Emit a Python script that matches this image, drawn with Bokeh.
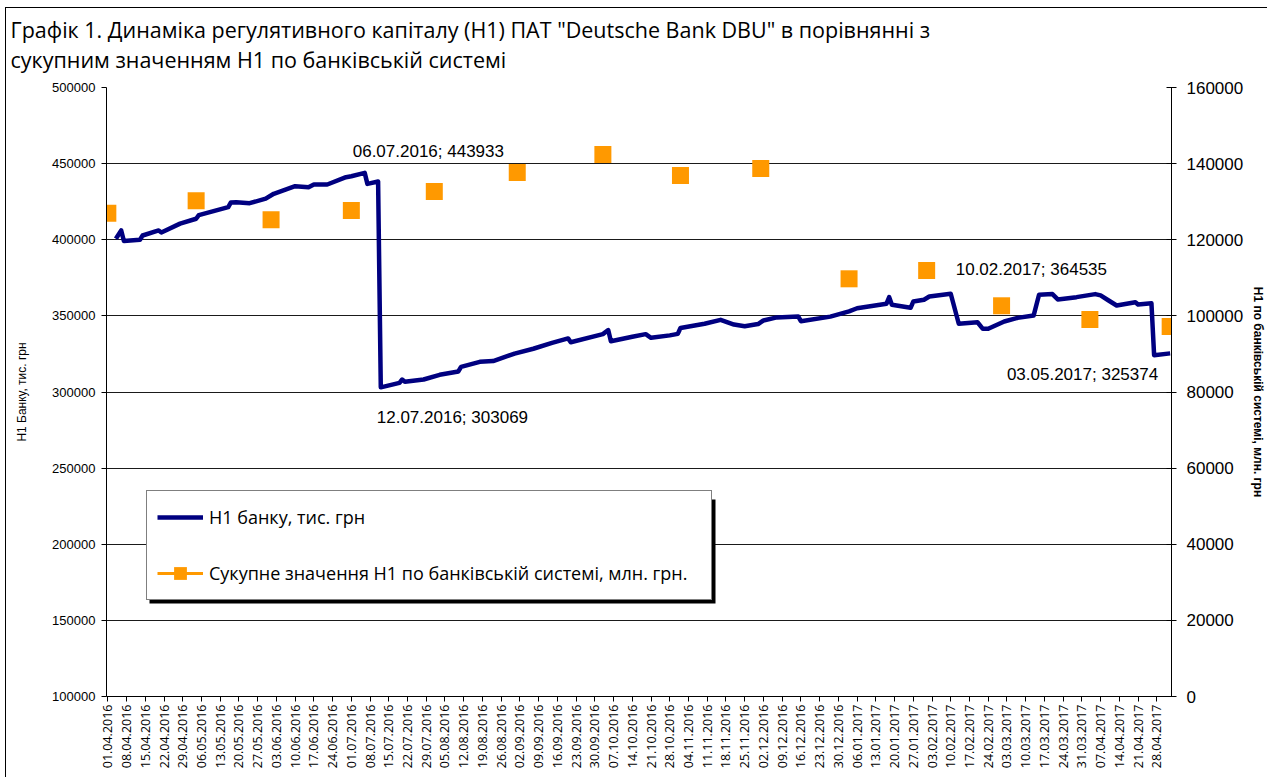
import pandas as pd
from math import pi
from bokeh.plotting import figure
from bokeh.models import (Range1d, LinearAxis, FixedTicker, BasicTickFormatter,
                          Label, Legend, LegendItem, Title, BoxAnnotation)
from bokeh.embed import file_html
from bokeh.resources import INLINE

# ---------------- data ----------------
bank_dates = [
    "04.04.2016", "06.04.2016", "07.04.2016", "13.04.2016", "14.04.2016", "20.04.2016",
    "21.04.2016", "28.04.2016", "04.05.2016", "05.05.2016", "16.05.2016", "17.05.2016",
    "19.05.2016", "24.05.2016", "30.05.2016", "02.06.2016", "10.06.2016", "15.06.2016",
    "17.06.2016", "22.06.2016", "29.06.2016", "01.07.2016", "06.07.2016", "07.07.2016",
    "11.07.2016", "12.07.2016", "19.07.2016", "20.07.2016", "21.07.2016", "28.07.2016",
    "03.08.2016", "10.08.2016", "11.08.2016", "18.08.2016", "23.08.2016", "31.08.2016",
    "07.09.2016", "14.09.2016", "20.09.2016", "21.09.2016", "03.10.2016", "05.10.2016",
    "06.10.2016", "14.10.2016", "19.10.2016", "21.10.2016", "28.10.2016", "31.10.2016",
    "01.11.2016", "10.11.2016", "16.11.2016", "21.11.2016", "25.11.2016", "30.11.2016",
    "02.12.2016", "07.12.2016", "15.12.2016", "16.12.2016", "27.12.2016", "03.01.2017",
    "06.01.2017", "17.01.2017", "18.01.2017", "19.01.2017", "26.01.2017", "27.01.2017",
    "31.01.2017", "02.02.2017", "10.02.2017", "13.02.2017", "20.02.2017", "22.02.2017",
    "24.02.2017", "02.03.2017", "07.03.2017", "13.03.2017", "15.03.2017", "20.03.2017",
    "22.03.2017", "29.03.2017", "05.04.2017", "07.04.2017", "10.04.2017", "13.04.2017",
    "20.04.2017", "21.04.2017", "26.04.2017", "27.04.2017", "03.05.2017",
]
bank_values = [
    400600, 406100, 399200, 400000, 402800, 406100,
    404800, 410600, 413800, 416200, 421400, 424500,
    424700, 424000, 427000, 430200, 435200, 434500,
    436300, 436300, 441100, 441700, 443933, 436700,
    438300, 303069, 306000, 308200, 306800, 308200,
    311300, 313500, 316500, 319800, 320300, 325200,
    328400, 332300, 335200, 332700, 338000, 340700,
    333300, 336300, 338000, 335600, 337200, 338200,
    342000, 344800, 347400, 344300, 343200, 344600,
    347000, 349000, 349600, 346500, 349500, 353000,
    355000, 358000, 362300, 357300, 355300, 359400,
    360600, 362700, 364535, 344800, 345800, 341500,
    341500, 346300, 348700, 350300, 363900, 364300,
    360800, 362300, 364300, 363500, 360100, 356800,
    359000, 357500, 358300, 324200, 325374,
]

system_dates = [
    "01.04.2016", "04.05.2016", "01.06.2016", "01.07.2016", "01.08.2016", "01.09.2016",
    "03.10.2016", "01.11.2016", "01.12.2016", "03.01.2017", "01.02.2017", "01.03.2017",
    "03.04.2017", "03.05.2017",
]
system_values = [
    126980, 130230, 125240, 127690, 132680, 137670,
    142400, 136880, 138720, 109740, 111920, 102650,
    99050, 97210,
]

left_ticks = [100000, 150000, 200000, 250000, 300000, 350000, 400000, 450000, 500000]
right_ticks = [0, 20000, 40000, 60000, 80000, 100000, 120000, 140000, 160000]

annotations = [
    ("06.07.2016", 443933),
    ("12.07.2016", 303069),
    ("10.02.2017", 364535),
    ("03.05.2017", 325374),
]

title_lines = [
    'Графік 1. Динаміка регулятивного капіталу (Н1) ПАТ "Deutsche Bank DBU" в порівнянні з',
    'сукупним значенням Н1 по банківській системі',
]
left_label = "Н1 Банку, тис. грн"
right_label = "Н1 по банківській системі, млн. грн"
legend_labels = ["Н1 банку, тис. грн", "Сукупне значення Н1 по банківській системі, млн. грн."]

# ---------------- helpers ----------------
START = pd.Timestamp("2016-04-01")


def to_days(strings):
    d = pd.to_datetime(pd.Series(strings), format="%d.%m.%Y")
    return [int(v) for v in (d - START).dt.days]


bank_x = to_days(bank_dates)
sys_x = to_days(system_dates)

tick_dates = pd.date_range("2016-04-01", "2017-04-28", freq="7D")
tick_labels = [d.strftime("%d.%m.%Y") for d in tick_dates]
tick_x = [int((d - START).days) for d in tick_dates]

NAVY = "#000080"
ORANGE = "#FF9900"
ARIAL = "Liberation Sans"

p = figure(width=1262, height=770, output_backend="svg", toolbar_location=None,
           x_range=Range1d(-0.5, 397.5), y_range=Range1d(100000, 500000),
           min_border_left=100, min_border_right=93, min_border_top=79, min_border_bottom=82)
p.outline_line_color = None
p.background_fill_color = "white"
p.border_fill_color = "white"
p.styles = {"margin-left": "5px", "margin-top": "7px",
            "border-left": "1px solid #000", "border-top": "1px solid #000"}

p.extra_y_ranges = {"right": Range1d(0, 160000)}

# grid
p.xgrid.visible = False
p.ygrid.ticker = FixedTicker(ticks=left_ticks)
p.ygrid.grid_line_color = "#1a1a1a"
p.ygrid.grid_line_width = 1

# x axis
xa = p.xaxis[0]
xa.ticker = FixedTicker(ticks=tick_x)
xa.major_label_overrides = {x: lab for x, lab in zip(tick_x, tick_labels)}
xa.major_label_orientation = pi / 2
xa.major_label_text_font = "Open Sans"
xa.major_label_text_font_size = "12.5px"
xa.major_label_text_color = "black"
xa.major_label_standoff = 3
xa.major_tick_out = 5
xa.major_tick_in = 0
xa.minor_tick_line_color = None
xa.axis_line_color = "black"
xa.major_tick_line_color = "black"

# left axis
ya = p.yaxis[0]
ya.ticker = FixedTicker(ticks=left_ticks)
ya.formatter = BasicTickFormatter(use_scientific=False)
ya.major_label_text_font = ARIAL
ya.major_label_text_font_size = "13px"
ya.major_label_text_color = "black"
ya.major_label_standoff = 6
ya.major_tick_out = 5
ya.major_tick_in = 0
ya.minor_tick_line_color = None
ya.axis_line_color = "black"
ya.major_tick_line_color = "black"
ya.axis_label = left_label
ya.axis_label_text_font = ARIAL
ya.axis_label_text_font_size = "12px"
ya.axis_label_text_font_style = "normal"
ya.axis_label_text_color = "black"
ya.axis_label_standoff = 20

# right axis
ra = LinearAxis(y_range_name="right", ticker=FixedTicker(ticks=right_ticks),
                formatter=BasicTickFormatter(use_scientific=False))
ra.major_label_text_font = ARIAL
ra.major_label_text_font_size = "17px"
ra.major_label_text_color = "black"
ra.major_label_standoff = 10
ra.major_tick_out = 5
ra.major_tick_in = 5
ra.minor_tick_line_color = None
ra.axis_line_color = "black"
ra.major_tick_line_color = "black"
ra.axis_label = right_label
ra.axis_label_text_font = ARIAL
ra.axis_label_text_font_size = "12px"
ra.axis_label_text_font_style = "bold"
ra.axis_label_text_color = "black"
ra.axis_label_standoff = 5
p.add_layout(ra, "right")

# titles (line nearest the plot first)
p.add_layout(Title(text=title_lines[1], align="left", offset=-96, standoff=28,
                   text_font="Open Sans", text_font_size="21.5px",
                   text_font_style="normal", text_color="black"), "above")
p.add_layout(Title(text=title_lines[0], align="left", offset=-96, standoff=-30,
                   text_font="Open Sans", text_font_size="21.5px",
                   text_font_style="normal", text_color="black"), "above")

# series
bank_r = p.line(x=bank_x, y=bank_values, line_color=NAVY, line_width=4.5, line_join="round")
sys_r = p.scatter(x=sys_x, y=system_values, marker="square", size=17,
                  fill_color=ORANGE, line_color=None, y_range_name="right")
# line part of the legend sample for the orange series (single point: draws nothing)
sys_leg_line = p.line(x=sys_x[:1], y=system_values[:1], line_color=ORANGE, line_width=3,
                      y_range_name="right")

# data labels
ann_x = to_days([a[0] for a in annotations])
ann_style = [  # (x_offset, y_offset, align)
    (-12, 21, "left"),
    (-4, -30, "left"),
    (5, 24, "left"),
    (-12, -21, "right"),
]
for (d, v), xv, (xo, yo, al) in zip(annotations, ann_x, ann_style):
    p.add_layout(Label(x=xv, y=v, x_offset=xo, y_offset=yo, text=f"{d}; {v}",
                       text_font=ARIAL, text_font_size="17px", text_color="black",
                       text_align=al, text_baseline="alphabetic"))

# legend with a drop shadow
LEG_L, LEG_B, LEG_W, LEG_H = 40, 96, 566, 104
p.add_layout(BoxAnnotation(left=LEG_L + 3, right=LEG_L + LEG_W + 3,
                           bottom=LEG_B - 3, top=LEG_B + LEG_H - 3,
                           left_units="screen", right_units="screen",
                           bottom_units="screen", top_units="screen",
                           fill_color="black", fill_alpha=1, line_color=None))
legend = Legend(items=[LegendItem(label=legend_labels[0], renderers=[bank_r]),
                       LegendItem(label=legend_labels[1], renderers=[sys_leg_line, sys_r])],
                location=(LEG_L, LEG_B), margin=0, padding=10, spacing=24,
                glyph_width=46, glyph_height=32, label_height=30, label_width=492,
                label_standoff=6, label_text_font="Open Sans", label_text_font_size="18px",
                label_text_color="black", border_line_color="black", border_line_width=1,
                background_fill_color="white", background_fill_alpha=1)
p.add_layout(legend, "center")

open("out.html", "w").write(file_html(p, INLINE))
